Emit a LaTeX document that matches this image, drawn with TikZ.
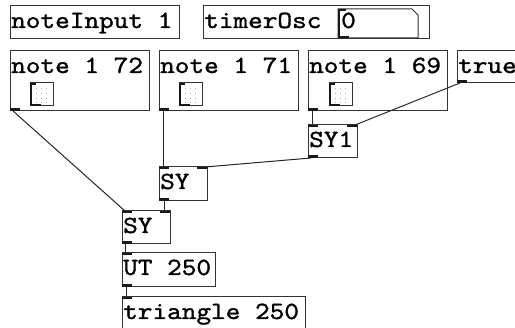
\documentclass[tikz,border=0pt]{standalone}
\usepackage{fontspec}
\newfontfamily\pdfont{lmmono10-regular.otf}[FakeStretch=1.13,FakeBold=1.2]
\newcommand\pdobj[6]{% name, left, top, width, height, text
  \node[pdbox, minimum width=#4pt, minimum height=#5pt] (#1) at (#2,#3) {};
  \node[pdtext] (#1-t) at ([xshift=1pt,yshift=-22pt]#1.north west) {#6};}
\newcommand\inletL[1]{\fill[iolet] (#1.north west) rectangle ++(10pt,-2.5pt);}
\newcommand\inletR[1]{\fill[iolet] (#1.north east) rectangle ++(-10pt,-2.5pt);}
\newcommand\outletL[1]{\fill[iolet] (#1.south west) rectangle ++(10pt,2.5pt);}
\newcommand\pdtoggle[3]{% name, left, top
  \node[pdbox, draw=black!80, minimum width=23pt, minimum height=23pt] (#1) at (#2,#3) {};
  \foreach \dx in {6,11,16} {\foreach \dy in {5,10,15,19} {
    \fill[black!30] ([xshift=\dx pt,yshift=-\dy pt]#1.north west) rectangle ++(0.9pt,-0.9pt);}}
  \draw[line width=2pt, black!90] ([xshift=6pt,yshift=-1pt]#1.north west) -- ([xshift=1pt,yshift=-1pt]#1.north west)
     -- ([xshift=1pt,yshift=1pt]#1.south west) -- ([xshift=11pt,yshift=1pt]#1.south west);}
\begin{document}
\begin{tikzpicture}[x=1pt,y=-1pt,
  pdbox/.style={draw=black!80, line width=1pt, rectangle, inner sep=0pt, outer sep=0pt, anchor=north west},
  pdtext/.style={font=\pdfont\fontsize{24.7}{26}\selectfont, inner sep=0pt, anchor=base west, text=black},
  iolet/.style={fill=black!90},
  wire/.style={line width=1pt, draw=black!85},
]
\useasboundingbox[fill=white] (0,0) rectangle (515,328);
\clip (0,0) rectangle (515,328);

% top row
\pdobj{ni}{10}{6}{169}{33}{noteInput 1}
\pdobj{to}{203}{6}{226}{33}{timerOsc}
% number box inside timerOsc
\coordinate (nb) at (338,9);
\draw[line width=1pt, black!80] (338,9) -- (412,9) -- (418,15) -- (418,38) -- (338,38) -- cycle;
\draw[line width=2pt, black!90] (346,10) -- (339,10) -- (339,37) -- (349,37);
\node[pdtext] (nb-t) at (341,28) {0};

% note objects
\pdobj{n72}{10}{51}{139}{60}{note 1 72}
\pdobj{n71}{159}{51}{139}{60}{note 1 71}
\pdobj{n69}{308}{51}{139}{60}{note 1 69}
\pdobj{tr}{457}{51}{80}{32}{true}
\pdtoggle{tg72}{30}{83}
\pdtoggle{tg71}{179}{83}
\pdtoggle{tg69}{329}{83}
\outletL{n72}\outletL{n71}\outletL{n69}\outletL{tr}

% combinators
\pdobj{sy1}{308}{125}{49}{33}{SY1}
\pdobj{sya}{159}{167}{48}{34}{SY}
\pdobj{syb}{122}{211}{48}{33}{SY}
\pdobj{ut}{122}{253}{93}{34}{UT 250}
\pdobj{tri}{122}{297}{183}{45}{triangle 250}
\inletL{sy1}\inletR{sy1}\outletL{sy1}
\inletL{sya}\inletR{sya}\outletL{sya}
\inletL{syb}\inletR{syb}\outletL{syb}
\inletL{ut}\outletL{ut}
\inletL{tri}

% wires
\draw[wire] ([xshift=3pt]n72.south west) -- ([xshift=3pt]syb.north west);
\draw[wire] ([xshift=4pt]n71.south west) -- ([xshift=4pt]sya.north west);
\draw[wire] ([xshift=4pt]n69.south west) -- ([xshift=4pt]sy1.north west);
\draw[wire] ([xshift=3pt]tr.south west) -- ([xshift=-2pt]sy1.north east);
\draw[wire] ([xshift=3pt]sy1.south west) -- ([xshift=-2pt]sya.north east);
\draw[wire] ([xshift=5pt]sya.south west) -- ([xshift=-6pt]syb.north east);
\draw[wire] ([xshift=3pt]syb.south west) -- ([xshift=3pt]ut.north west);
\draw[wire] ([xshift=4pt]ut.south west) -- ([xshift=4pt]tri.north west);
\end{tikzpicture}
\end{document}
